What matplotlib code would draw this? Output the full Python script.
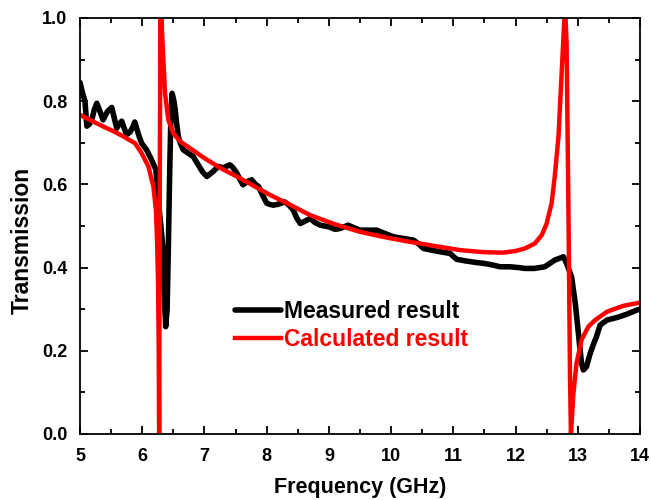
import matplotlib
matplotlib.use("Agg")
import matplotlib.pyplot as plt
from matplotlib.ticker import MultipleLocator

plt.rcParams['font.family'] = ['Liberation Sans', 'DejaVu Sans']
plt.rcParams['font.weight'] = 'bold'

meas_x = [5.00, 5.04, 5.08, 5.11, 5.15, 5.19, 5.23, 5.27, 5.31, 5.37, 5.44, 5.51, 5.55, 5.59,
          5.63, 5.67, 5.71, 5.75, 5.80, 5.84, 5.88, 5.91, 5.94, 5.99, 6.07, 6.15, 6.22, 6.26,
          6.30, 6.33, 6.35, 6.377, 6.40, 6.42, 6.44, 6.46, 6.48, 6.51, 6.53, 6.55, 6.58, 6.61,
          6.66, 6.74, 6.82, 6.90, 6.97, 7.04, 7.09, 7.14, 7.22, 7.30, 7.41, 7.46, 7.52, 7.57,
          7.62, 7.69, 7.76, 7.82, 7.87, 7.93, 8.00, 8.05, 8.11, 8.20, 8.29, 8.36, 8.43, 8.48,
          8.54, 8.62, 8.70, 8.78, 8.86, 9.00, 9.10, 9.18, 9.31, 9.40, 9.50, 9.65, 9.77, 9.90,
          10.04, 10.20, 10.36, 10.45, 10.52, 10.65, 10.79, 10.95, 11.05, 11.20, 11.38, 11.50,
          11.64, 11.75, 11.91, 12.05, 12.15, 12.30, 12.47, 12.63, 12.77, 12.82, 12.90, 12.96,
          13.01, 13.06, 13.09, 13.14, 13.20, 13.25, 13.30, 13.36, 13.47, 13.63, 13.79, 13.95,
          14.00]
meas_y = [0.845, 0.82, 0.80, 0.74, 0.745, 0.755, 0.78, 0.795, 0.78, 0.755, 0.775, 0.785, 0.76,
          0.735, 0.745, 0.752, 0.735, 0.72, 0.725, 0.735, 0.75, 0.735, 0.72, 0.699, 0.683,
          0.659, 0.635, 0.56, 0.50, 0.45, 0.35, 0.258, 0.30, 0.45, 0.62, 0.76, 0.819, 0.80,
          0.779, 0.75, 0.715, 0.70, 0.683, 0.675, 0.667, 0.647, 0.63, 0.619, 0.625, 0.631,
          0.643, 0.64, 0.647, 0.64, 0.627, 0.612, 0.599, 0.607, 0.611, 0.60, 0.595, 0.575,
          0.555, 0.552, 0.55, 0.553, 0.558, 0.55, 0.538, 0.52, 0.506, 0.512, 0.518, 0.508,
          0.502, 0.498, 0.492, 0.494, 0.502, 0.496, 0.49, 0.49, 0.49, 0.482, 0.474, 0.47,
          0.466, 0.456, 0.446, 0.442, 0.438, 0.434, 0.42, 0.416, 0.412, 0.41, 0.406, 0.402,
          0.402, 0.40, 0.398, 0.398, 0.402, 0.418, 0.426, 0.41, 0.378, 0.314, 0.242, 0.17,
          0.154, 0.162, 0.194, 0.215, 0.234, 0.262, 0.274, 0.28, 0.288, 0.298, 0.30]

calc_x = [5.00, 5.20, 5.375, 5.55, 5.70, 5.884, 5.99, 6.10, 6.18, 6.22, 6.24, 6.255, 6.265,
          6.272, 6.28, 6.29, 6.30, 6.32, 6.34, 6.366, 6.42, 6.50, 6.61, 6.77, 7.00, 7.25,
          7.52, 7.75, 8.05, 8.35, 8.70, 9.10, 9.50, 9.90, 10.30, 10.70, 11.11, 11.50, 11.80,
          12.00, 12.15, 12.31, 12.42, 12.50, 12.58, 12.63, 12.69, 12.73, 12.77, 12.795, 12.82,
          12.85, 12.875, 12.89, 12.93, 12.98, 13.06, 13.17, 13.28, 13.47, 13.73, 14.00]
calc_y = [0.767, 0.752, 0.739, 0.727, 0.715, 0.699, 0.675, 0.643, 0.594, 0.538, 0.458, 0.36,
          0.20, 0.0, 0.46, 1.0, 1.06, 0.96, 0.899, 0.819, 0.755, 0.723, 0.703, 0.687, 0.663,
          0.64, 0.619, 0.60, 0.575, 0.553, 0.526, 0.504, 0.486, 0.473, 0.462, 0.452, 0.442,
          0.437, 0.436, 0.44, 0.446, 0.458, 0.478, 0.506, 0.555, 0.619, 0.715, 0.835, 0.955,
          1.03, 0.94, 0.538, 0.138, 0.0, 0.098, 0.17, 0.226, 0.258, 0.274, 0.294, 0.308, 0.316]

fig = plt.figure(figsize=(6.51, 5.0), dpi=100)
ax = fig.add_axes([0.1229, 0.132, 0.8602, 0.832])

ax.plot(meas_x, meas_y, color='black', lw=4.0, solid_joinstyle='round',
        solid_capstyle='round', label='Measured result')
ax.plot(calc_x, calc_y, color='#ff0000', lw=3.2, solid_joinstyle='round',
        label='Calculated result')

ax.set_xlim(5, 14)
ax.set_ylim(0, 1.0)
ax.xaxis.set_major_locator(MultipleLocator(1))
ax.xaxis.set_minor_locator(MultipleLocator(0.5))
ax.yaxis.set_minor_locator(MultipleLocator(0.1))
ax.set_yticks([0, 0.2, 0.4, 0.6, 0.8, 1.0])
ax.set_yticklabels(['0.0', '0.2', '0.4', '0.6', '0.8', '1.0'])
ax.tick_params(which='both', direction='in', top=True, right=True, width=1.3, labelsize=13)
ax.tick_params(which='major', length=6)
ax.tick_params(which='minor', length=3.5)
ax.tick_params(axis='x', which='major', pad=10)
ax.tick_params(axis='y', which='major', pad=9)
for s in ax.spines.values():
    s.set_linewidth(1.3)

ax.set_xlabel('Frequency (GHz)', fontsize=15.5, fontweight='bold', labelpad=9)
ax.set_ylabel('Transmission', fontsize=16.5, fontweight='bold', labelpad=6, y=0.466)

leg = ax.legend(loc='upper left', bbox_to_anchor=(0.277, 0.323), frameon=False,
                borderpad=0, borderaxespad=0, fontsize=16.5, handlelength=2.0,
                handletextpad=0.15, labelspacing=0.22)
for t, c in zip(leg.get_texts(), ['black', '#ff0000']):
    t.set_color(c)

fig.savefig('out.png', dpi=100)
